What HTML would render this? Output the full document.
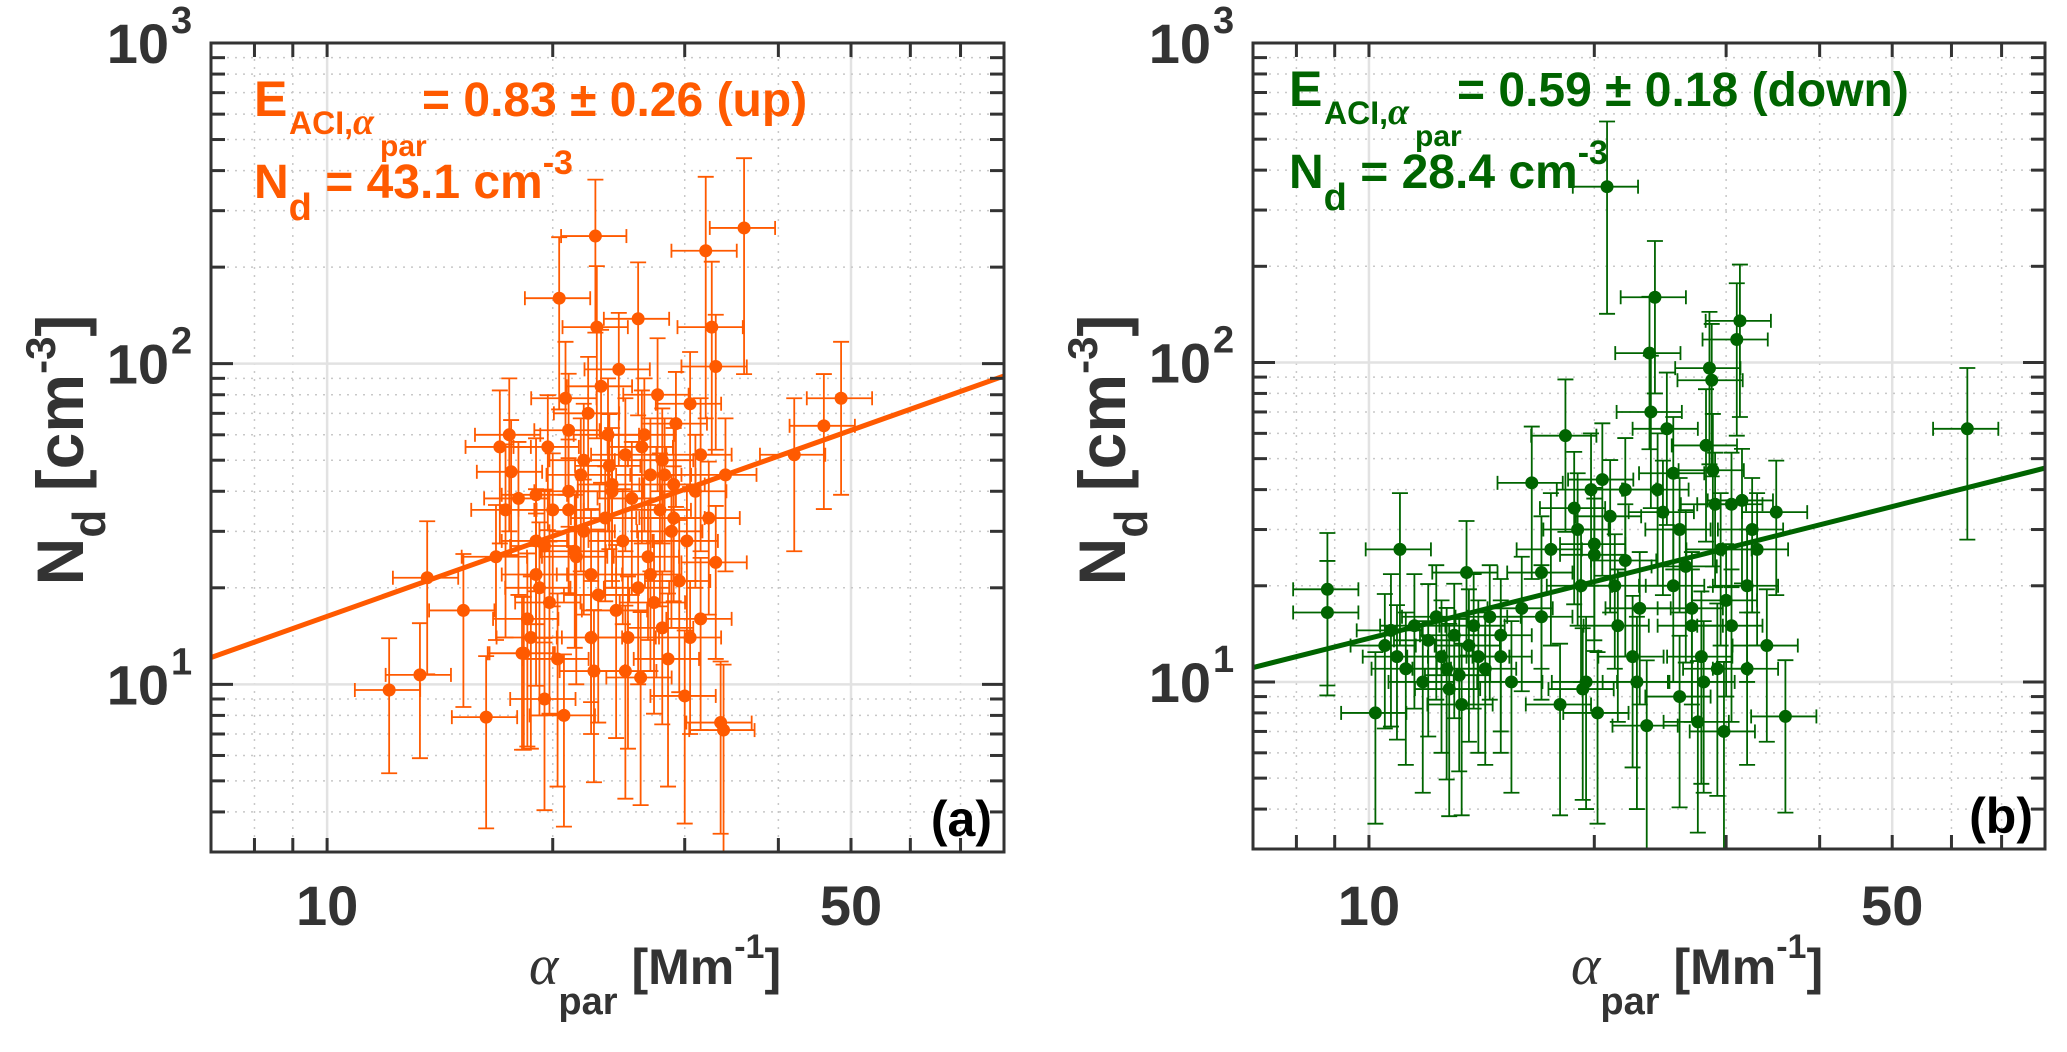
<!DOCTYPE html>
<html><head><meta charset="utf-8"><title>N_d vs alpha_par</title>
<style>
html,body{margin:0;padding:0;background:#fff;}
svg{display:block;font-family:"Liberation Sans",sans-serif;}
</style></head>
<body>
<svg id="chart" width="2067" height="1052" viewBox="0 0 2067 1052" xmlns="http://www.w3.org/2000/svg"></svg>
<script>
// ---------- data ----------
const xLim = [7, 80];
const yLim = [3, 1000];
const xTickLabels = [10, 50];
const xMinorTicks = [8, 9, 10, 20, 30, 40, 50, 60, 70];
const yMajorTicks = [10, 100, 1000];

const aX = [12.1,13.3,13.6,15.2,16.3,17,16.8,17.3,17.5,17.6,18,18.5,18.7,18.3,19,19,19.2,19.5,19.5,19.7,20,20.3,20.4,20.8,21,21,21.5,21.8,22,22,22.3,22.5,22.7,22.8,22.9,23.2,23.5,23.7,24,24.3,24.5,24.8,25,25.2,25.5,26,26.2,26.5,26.8,27,27.3,27.6,27.8,28,28.5,28.8,29,29.2,29.5,30,30.2,30.5,31,31.5,32,32.3,32.6,33,33,33.5,33.8,34,36,42,46,48.5,24,21,19,26,23,28,18.2,20.7,22.5,25,27,29,30.5,19.8,21.4,23.8,26.3,28.2,31.5];
const aY = [9.6,10.7,21.5,17,7.9,55,25,35,60,46,38,16,14,12.5,39,28,20,27,9,55,35,12,160,78,40,62,25,45,30,50,70,22,11,250,130,85,33,60,42,17,96,28,52,14,38,138,10.5,60,25,45,18,80,35,50,12,30,42,65,21,9.2,28,75,40,16,225,33,130,24,98,7.6,7.2,45,265,52,64,78,40,35,22,20,19,15,12.5,8,14,11,22,33,14,18,26,48,55,45,52];
const aYErr = [0.45,0.45,0.5,0.5,0.55,0.5,0.45,0.6,0.5,0.45,0.5,0.6,0.55,0.5,0.5,0.45,0.6,0.5,0.55,0.45,0.5,0.6,0.55,0.5,0.45,0.5,0.6,0.5,0.45,0.5,0.5,0.6,0.55,0.5,0.55,0.5,0.45,0.5,0.5,0.6,0.5,0.45,0.5,0.55,0.5,0.5,0.6,0.5,0.45,0.5,0.55,0.5,0.5,0.45,0.6,0.5,0.5,0.45,0.55,0.6,0.5,0.45,0.5,0.55,0.7,0.5,0.6,0.5,0.45,0.55,0.6,0.5,0.65,0.5,0.45,0.5,0.5,0.45,0.55,0.5,0.6,0.5,0.5,0.55,0.5,0.6,0.5,0.45,0.5,0.55,0.5,0.45,0.5,0.5,0.5];
const aFit = {slope: 0.83, coef: 2.41};

const bX = [8.8,8.8,10.2,10.5,10.7,10.9,11,11.2,11.5,11.8,12,12.3,12.5,12.7,12.8,13,13.2,13.3,13.5,13.6,13.8,14,14.3,14.5,15,15.5,16,16.5,17,17.5,18,18.3,18.8,19,19.2,19.3,19.5,19.8,20,20.2,20.5,20.8,21,21.3,21.5,22,22.5,22.8,23.5,23.7,23.8,24.1,24.3,24.7,25,25.5,26,26.5,27,27.5,27.8,28,28.2,28.5,28.7,28.8,29,29.2,29.5,29.8,30,30.5,31,31.3,31.5,32,32.5,33,34,35,36,63,22,20,25.5,27,30.5,23,32,26,17,15];
const bY = [19.5,16.5,8,13,14.5,12,26,11,15,10,13.5,16,12,11,9.5,14,10.5,8.5,22,13,15,12,11,16,14,10,17,42,16,26,8.5,59,35,30,20,9.5,10,40,27,8,43,355,33,20,15,24,12,10,7.3,107,70,160,40,34,62,20,30,23,17,7.5,12,10,55,96,88,46,36,11,26,7,18,15,118,135,37,20,30,26,13,34,7.8,62,40,25,45,15,36,17,11,9,22,12];
const bYErr = [0.5,0.45,0.55,0.45,0.5,0.45,0.5,0.5,0.45,0.55,0.5,0.45,0.5,0.55,0.6,0.45,0.5,0.55,0.45,0.5,0.45,0.5,0.5,0.45,0.5,0.55,0.45,0.5,0.45,0.5,0.55,0.5,0.5,0.5,0.5,0.55,0.6,0.5,0.5,0.55,0.5,0.6,0.5,0.45,0.5,0.5,0.55,0.6,0.6,0.5,0.5,0.5,0.5,0.45,0.5,0.5,0.45,0.5,0.5,0.55,0.6,0.55,0.5,0.5,0.5,0.5,0.45,0.6,0.5,0.65,0.5,0.5,0.5,0.5,0.45,0.5,0.45,0.5,0.5,0.45,0.5,0.55,0.45,0.5,0.5,0.5,0.45,0.5,0.5,0.55,0.5,0.5];
const bFit = {slope: 0.59, coef: 3.52};

// ---------- drawing ----------
const NS = "http://www.w3.org/2000/svg";
const svg = document.getElementById("chart");
function el(tag, attrs, parent) {
  const e = document.createElementNS(NS, tag);
  for (const k in attrs) e.setAttribute(k, attrs[k]);
  (parent || svg).appendChild(e);
  return e;
}
const AX = "#333333";

function panel(opt) {
  const L = opt.left, R = opt.right, T = opt.top, B = opt.bottom;
  const lx0 = Math.log10(xLim[0]), lx1 = Math.log10(xLim[1]);
  const ly0 = Math.log10(yLim[0]), ly1 = Math.log10(yLim[1]);
  const sx = v => L + (Math.log10(v) - lx0) / (lx1 - lx0) * (R - L);
  const sy = v => B - (Math.log10(v) - ly0) / (ly1 - ly0) * (B - T);

  const g = el("g", {});
  
  

  // grid
  const grid = el("g", {}, g);
  
  
  xMinorTicks.forEach(v => {
    const major = xTickLabels.includes(v);
    el("line", {x1: sx(v), x2: sx(v), y1: T, y2: B, stroke: major ? "#e2e2e2" : "#c8c8c8",
      "stroke-width": major ? 2.5 : 1.5, "stroke-dasharray": major ? "" : "2 6"}, grid);
  });
  const yMinor = [];
  for (let d = 1; d <= 100; d *= 10) for (let m = 2; m <= 9; m++) { const v = m * d; if (v >= yLim[0] && v <= yLim[1]) yMinor.push(v); }
  yMinor.forEach(v => el("line", {x1: L, x2: R, y1: sy(v), y2: sy(v), stroke: "#c8c8c8", "stroke-width": 1.5, "stroke-dasharray": "2 6"}, grid));
  yMajorTicks.forEach(v => el("line", {x1: L, x2: R, y1: sy(v), y2: sy(v), stroke: "#e2e2e2", "stroke-width": 2.5}, grid));

  // series
  const ser = el("g", {}, g);
  
  
  const clipId = opt.name + "-clip";
  const cp = el("clipPath", {id: clipId}, svg);
  el("rect", {x: L, y: T, width: R - L, height: B - T}, cp);
  ser.setAttribute("clip-path", "url(#" + clipId + ")");
  const col = opt.color;
  opt.xs.forEach((x, i) => {
    const y = opt.ys[i], e = opt.ye[i];
    const pg = el("g", {stroke: col, "stroke-width": 1.8, fill: "none"}, ser);
    
    
    const px = sx(x), py = sy(y);
    const yl = sy(y * (1 - e)), yh = sy(y * (1 + e));
    const xl = sx(x * 0.9), xh = sx(x * 1.1);
    el("line", {x1: px, x2: px, y1: yl, y2: yh}, pg);
    el("line", {x1: px - 8, x2: px + 8, y1: yl, y2: yl}, pg);
    el("line", {x1: px - 8, x2: px + 8, y1: yh, y2: yh}, pg);
    el("line", {x1: xl, x2: xh, y1: py, y2: py}, pg);
    el("line", {x1: xl, x2: xl, y1: py - 7, y2: py + 7}, pg);
    el("line", {x1: xh, x2: xh, y1: py - 7, y2: py + 7}, pg);
    el("circle", {cx: px, cy: py, r: 6.5, fill: col, stroke: "none"}, pg);
  });
  // fit line
  const f = opt.fit;
  const fl = el("line", {x1: sx(xLim[0]), y1: sy(f.coef * Math.pow(xLim[0], f.slope)),
    x2: sx(xLim[1]), y2: sy(f.coef * Math.pow(xLim[1], f.slope)), stroke: col, "stroke-width": 5}, ser);
  
  

  // axes box + ticks
  const ax = el("g", {stroke: AX, "stroke-width": 3, fill: "none"}, g);
  
  
  el("rect", {x: L, y: T, width: R - L, height: B - T}, ax);
  xMinorTicks.forEach(v => {
    el("line", {x1: sx(v), x2: sx(v), y1: B, y2: B - 14}, ax);
    el("line", {x1: sx(v), x2: sx(v), y1: T, y2: T + 14}, ax);
  });
  yMinor.forEach(v => {
    el("line", {x1: L, x2: L + 14, y1: sy(v), y2: sy(v)}, ax);
    el("line", {x1: R, x2: R - 14, y1: sy(v), y2: sy(v)}, ax);
  });
  yMajorTicks.forEach(v => {
    el("line", {x1: L, x2: L + 22, y1: sy(v), y2: sy(v)}, ax);
    el("line", {x1: R, x2: R - 22, y1: sy(v), y2: sy(v)}, ax);
  });

  // tick labels
  xTickLabels.forEach(v => {
    const t = el("text", {x: sx(v), y: 925, "text-anchor": "middle", "font-size": 56, "font-weight": "bold", fill: AX}, g);
    t.textContent = v;
    
    
  });
  yMajorTicks.forEach(v => {
    const t = el("text", {x: L - 42, y: sy(v) + 20, "text-anchor": "end", "font-size": 56, "font-weight": "bold", fill: AX}, g);
    t.textContent = "10";
    
    
    const s = el("text", {x: L - 40, y: sy(v) - 10, "text-anchor": "start", "font-size": 38, "font-weight": "bold", fill: AX}, g);
    s.textContent = Math.round(Math.log10(v));
    
    
  });

  // axis titles
  const xt = el("text", {x: L + 318, y: 984, "font-size": 50, "font-weight": "bold", fill: AX}, g);
  
  
  xt.innerHTML = '<tspan font-family="Liberation Serif,serif" font-style="italic" font-weight="normal" font-size="56">α</tspan><tspan dy="30" font-size="38">par</tspan><tspan dy="-30"> [Mm</tspan><tspan dy="-26" font-size="34">-1</tspan><tspan dy="26">]</tspan>';
  const yt = el("text", {x: 0, y: 0, "text-anchor": "middle", "font-size": 66, "font-weight": "bold", fill: AX,
    transform: "translate(" + (L - 128) + ",450) rotate(-90)"}, g);
  
  
  yt.innerHTML = 'N<tspan dy="22" font-size="46">d</tspan><tspan dy="-22"> [cm</tspan><tspan dy="-28" font-size="42">-3</tspan><tspan dy="28">]</tspan>';

  // annotation
  const an = el("g", {fill: col, "font-weight": "bold"}, g);
  
  
  const ex = opt.annX, ey = opt.annY;
  el("text", {x: ex, y: ey, "font-size": 50}, an).textContent = "E";
  const sub = el("text", {x: ex + 35, y: ey + 18, "font-size": 32}, an);
  sub.innerHTML = 'ACI,<tspan font-family="Liberation Serif,serif" font-style="italic" font-size="38">α</tspan>';
  el("text", {x: ex + 126, y: ey + 40, "font-size": 30}, an).textContent = "par";
  el("text", {x: ex + opt.eOff, y: ey, "font-size": 48}, an).textContent = opt.eText;
  const nd = el("text", {x: ex, y: ey + 82, "font-size": 48}, an);
  nd.innerHTML = 'N<tspan dy="22" font-size="38">d</tspan><tspan dy="-22"> ' + opt.nText + '</tspan><tspan dy="-24" font-size="34">-3</tspan>';

  const pl = el("text", {x: R - 12, y: B - 16, "text-anchor": "end", "font-size": 50, "font-weight": "bold", fill: "#000"}, g);
  pl.textContent = opt.label;
  
  
}

panel({name: "panel-a", left: 211, right: 1004, top: 43, bottom: 852, color: "#ff5a00",
  xs: aX, ys: aY, ye: aYErr, fit: aFit, annX: 254, annY: 116, eOff: 168,
  eText: "= 0.83 ± 0.26 (up)", nText: "= 43.1 cm", label: "(a)"});
panel({name: "panel-b", left: 1253, right: 2045, top: 43, bottom: 849, color: "#006400",
  xs: bX, ys: bY, ye: bYErr, fit: bFit, annX: 1289, annY: 106, eOff: 168,
  eText: "= 0.59 ± 0.18 (down)", nText: "= 28.4  cm", label: "(b)"});
</script>
</body></html>
